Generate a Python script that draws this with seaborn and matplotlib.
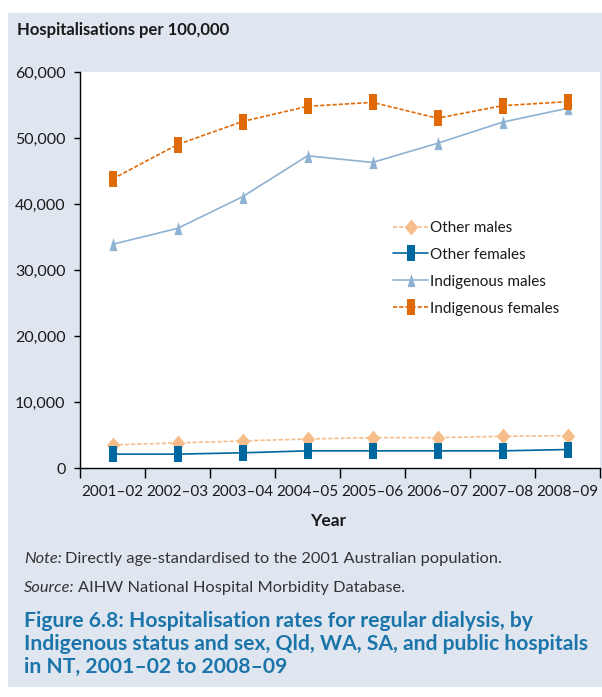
import numpy as np
import pandas as pd
import matplotlib
matplotlib.use("Agg")
import matplotlib.pyplot as plt
import seaborn as sns
from matplotlib.patches import Rectangle

years = ["2001–02", "2002–03", "2003–04", "2004–05", "2005–06", "2006–07", "2007–08", "2008–09"]
other_males = [3500, 3800, 4100, 4400, 4600, 4600, 4800, 4900]
other_females = [2100, 2100, 2300, 2600, 2600, 2600, 2600, 2800]
indigenous_males = [33900, 36300, 41100, 47300, 46300, 49200, 52400, 54500]
indigenous_females = [43800, 49000, 52500, 54800, 55400, 53000, 54900, 55500]
series_names = ["Other males", "Other females", "Indigenous males", "Indigenous females"]
y_ticks = [0, 10000, 20000, 30000, 40000, 50000, 60000]

BG = "#dfe6f0"
sns.set_theme(style="white")
FONT = ["Lato", "DejaVu Sans"]
plt.rcParams["font.family"] = FONT

W, H = 602, 697
fig = plt.figure(figsize=(W / 100, H / 100), dpi=100, facecolor="white")
fig.patches.append(Rectangle((8 / W, 1 - 687 / H), 1 - 8 / W, (687 - 13) / H,
                             transform=fig.transFigure, facecolor=BG, edgecolor="none", zorder=-10))

ax = fig.add_axes([80 / W, 1 - 468 / H, 520 / W, (468 - 72) / H])
ax.set_zorder(2)
ax.set_facecolor("white")

rect = [(-0.25, -0.5), (0.25, -0.5), (0.25, 0.5), (-0.25, 0.5), (-0.25, -0.5)]
diamond = [(0, -0.5), (0.42, 0), (0, 0.5), (-0.42, 0), (0, -0.5)]
tri = [(-0.3, -0.5), (0.3, -0.5), (0, 0.5), (-0.3, -0.5)]

styles = {
    "Other males": dict(color="#f5bd8a", marker=diamond, ms=11.5, ls=(0, (2.5, 1.2))),
    "Other females": dict(color="#0068a0", marker=rect, ms=11.5, ls="-"),
    "Indigenous males": dict(color="#8fb2d3", marker=tri, ms=9.5, ls="-"),
    "Indigenous females": dict(color="#e06a08", marker=rect, ms=11.5, ls=(0, (2.5, 1.2))),
}
values = {
    "Other males": other_males,
    "Other females": other_females,
    "Indigenous males": indigenous_males,
    "Indigenous females": indigenous_females,
}
for name in series_names:
    st = styles[name]
    df = pd.DataFrame({"Year": years, "Rate": values[name]})
    sns.lineplot(data=df, x="Year", y="Rate", ax=ax, color=st["color"], marker=st["marker"],
                 markersize=st["ms"], markeredgewidth=0, linewidth=1.2, linestyle=st["ls"],
                 label=name, sort=False)

ax.set_xlim(-0.5, len(years) - 0.5)
ax.set_ylim(0, 60000)
ax.set_yticks(y_ticks)
ax.set_yticklabels([f"{v:,}" for v in y_ticks])
ax.set_xticks(range(len(years)))
ax.set_xticklabels(years)
ax.set_xticks(np.arange(-0.5, len(years), 1.0), minor=True)
ax.tick_params(axis="x", which="major", length=0, pad=12, labelsize=11, colors="#1a1a1a")
ax.tick_params(axis="x", which="minor", length=7.5, width=1, color="black", direction="out", bottom=True)
ax.tick_params(axis="y", which="major", length=4.5, width=1, color="black", direction="out", left=True,
               pad=6, labelsize=11.5, colors="#1a1a1a")
for s in ["top", "right"]:
    ax.spines[s].set_visible(False)
for s in ["left", "bottom"]:
    ax.spines[s].set_color("black")
    ax.spines[s].set_linewidth(1)
ax.set_xlabel("")
ax.set_ylabel("")

leg = ax.legend(loc="upper left", bbox_to_anchor=(393 / W, 1 - 221 / H), bbox_transform=fig.transFigure,
                frameon=False, fontsize=11, handlelength=2.3, handletextpad=0.15, labelspacing=0.84,
                borderpad=0, borderaxespad=0)
for t in leg.get_texts():
    t.set_color("#1a1a1a")

fig.text(17 / W, 1 - 30 / H, "Hospitalisations per 100,000", fontsize=12, fontweight="bold",
         ha="left", va="center", color="#1a1a1a")
fig.text(328 / W, 1 - 521 / H, "Year", fontsize=12.5, fontweight="bold", ha="center", va="center",
         color="#1a1a1a")

renderer = fig.canvas.get_renderer()
def note(y, lead, rest):
    t1 = fig.text(24 / W, 1 - y / H, lead, fontsize=11.8, style="italic",
                  ha="left", va="center", color="#333333")
    bb = t1.get_window_extent(renderer=renderer)
    fig.text((bb.x1 + 3) / W, 1 - y / H, rest, fontsize=11.8,
             ha="left", va="center", color="#333333")

note(559, "Note:", "Directly age-standardised to the 2001 Australian population.")
note(588, "Source:", "AIHW National Hospital Morbidity Database.")

title_lines = ["Figure 6.8: Hospitalisation rates for regular dialysis, by",
               "Indigenous status and sex, Qld, WA, SA, and public hospitals",
               "in NT, 2001–02 to 2008–09"]
for i, line in enumerate(title_lines):
    fig.text(24 / W, 1 - (621 + i * 23) / H, line, fontsize=15.2, fontweight="bold",
             ha="left", va="center", color="#1b75aa")

fig.savefig("out.png", dpi=100, facecolor="white")
